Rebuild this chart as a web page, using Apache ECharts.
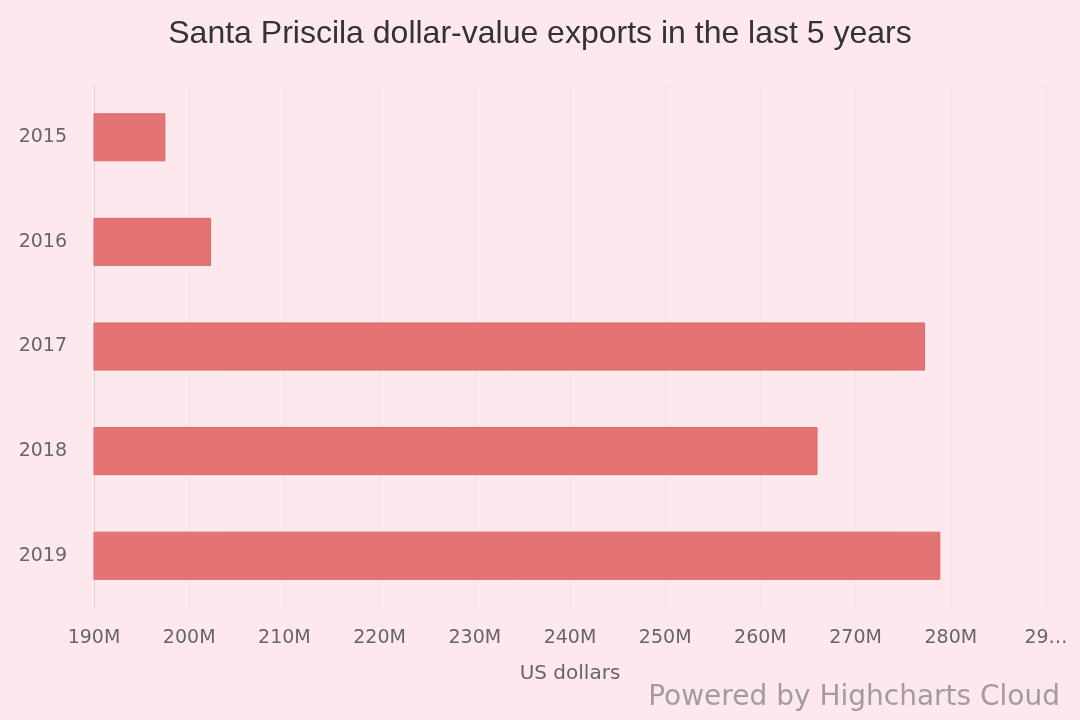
<!DOCTYPE html>
<html>
<head>
<meta charset="utf-8">
<script src="https://cdn.jsdelivr.net/npm/echarts@6/dist/echarts.min.js"></script>
<style>
html,body{margin:0;padding:0;background:#fde9ed;}
#chart{width:1080px;height:720px;}
</style>
</head>
<body>
<div id="chart"></div>
<script>
const categories = ['2015', '2016', '2017', '2018', '2019'];
const exportsUSD = [197.5e6, 202.3e6, 277.3e6, 266.0e6, 278.9e6];
const xTicks = { min: 190e6, max: 290e6, interval: 10e6 };

const chart = echarts.init(document.getElementById('chart'));
chart.setOption({
  backgroundColor: '#fde9ed',
  animation: false,
  title: {
    text: 'Santa Priscila dollar-value exports in the last 5 years',
    left: 'center',
    top: 13,
    textStyle: { fontFamily: 'Liberation Sans', fontSize: 32, fontWeight: 'normal', color: '#333333' }
  },
  grid: { left: 94, right: 34, top: 85, bottom: 112 },
  xAxis: {
    type: 'value',
    min: xTicks.min,
    max: xTicks.max,
    interval: xTicks.interval,
    name: 'US dollars',
    nameLocation: 'middle',
    nameGap: 56,
    nameTextStyle: { fontFamily: 'DejaVu Sans', fontSize: 20, color: '#666666' },
    axisLine: { show: false },
    axisTick: { show: false },
    splitLine: { lineStyle: { color: '#ece2e5', width: 1 } },
    axisLabel: {
      fontFamily: 'DejaVu Sans', fontSize: 19, color: '#666666', margin: 21,
      formatter: v => v >= xTicks.max ? '29…' : (v / 1e6) + 'M'
    }
  },
  yAxis: {
    type: 'category',
    data: categories,
    inverse: true,
    axisLine: { lineStyle: { color: '#d5d3de', width: 1 } },
    axisTick: { alignWithLabel: true, length: 16, lineStyle: { color: '#d5d3de' } },
    splitLine: { show: false },
    axisLabel: { fontFamily: 'DejaVu Sans', fontSize: 19, color: '#666666', margin: 27 }
  },
  series: [{
    type: 'bar',
    data: exportsUSD,
    barWidth: '46%',
    itemStyle: { color: '#e47474', borderColor: '#d96a6a', borderWidth: 1 }
  }],
  graphic: [{
    type: 'text',
    right: 20,
    top: 684,
    style: { text: 'Powered by Highcharts Cloud', font: '28px "DejaVu Sans"', fill: '#a39c9f' }
  }]
});
</script>
</body>
</html>
